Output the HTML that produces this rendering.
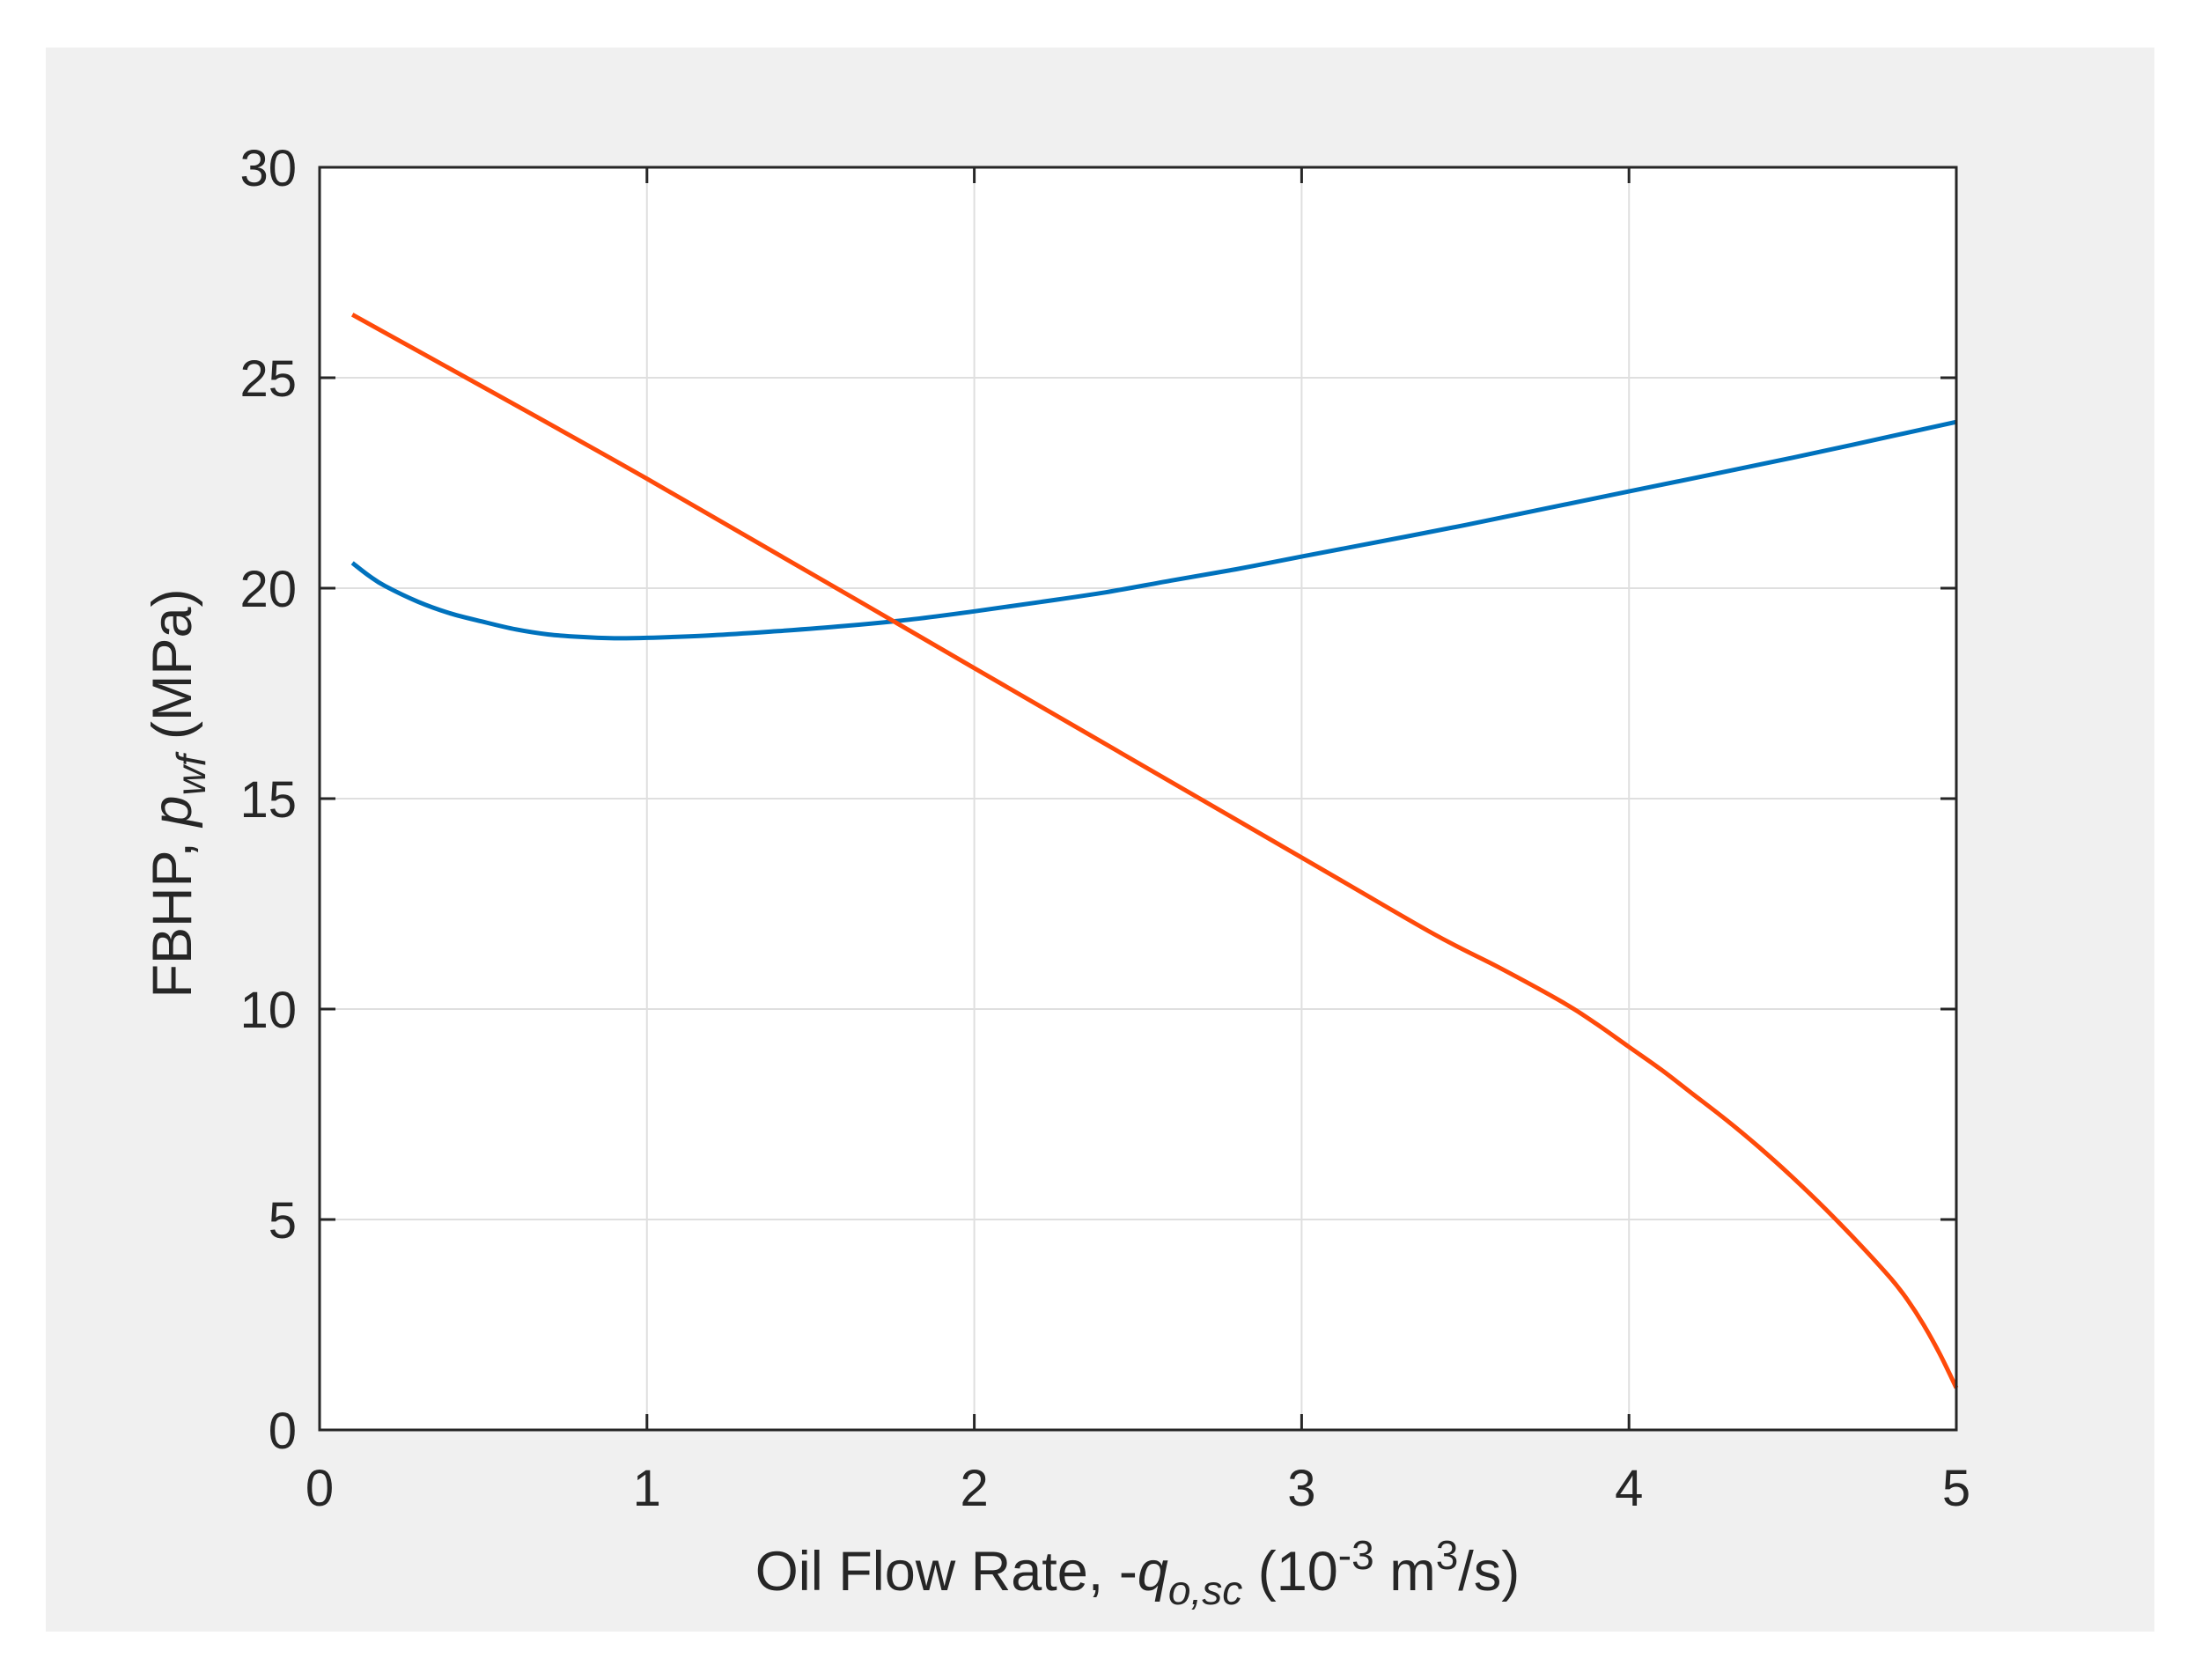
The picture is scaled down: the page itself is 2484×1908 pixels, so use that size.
<!DOCTYPE html>
<html><head><meta charset="utf-8"><style>
html,body{margin:0;padding:0;background:#fff;}
svg{display:block;font-family:"Liberation Sans",sans-serif;}
</style></head><body>
<svg id="chart" width="2484" height="1908" viewBox="0 0 2484 1908" xmlns="http://www.w3.org/2000/svg">
<rect x="52" y="54" width="2395" height="1799" fill="#f0f0f0"/>
<rect x="363" y="190" width="1859" height="1434" fill="#fff"/>
<g id="grid"></g>
<g id="series"></g>
<rect x="363" y="190" width="1859" height="1434" fill="none" stroke="#262626" stroke-width="3"/>
<g id="ticks"></g>
<text x="1292" y="1806" font-size="63" text-anchor="middle" fill="#262626">Oil Flow Rate, -<tspan font-style="italic">q</tspan><tspan font-style="italic" font-size="46" dy="16">o,sc</tspan><tspan dy="-16"> (10</tspan><tspan font-size="46" dy="-24">-3</tspan><tspan dy="24"> m</tspan><tspan font-size="46" dy="-24">3</tspan><tspan dy="24">/s)</tspan></text>
<text transform="translate(217,901) rotate(-90)" font-size="63" text-anchor="middle" fill="#262626">FBHP, <tspan font-style="italic">p</tspan><tspan font-style="italic" font-size="46" dy="16">wf</tspan><tspan dy="-16"> (MPa)</tspan></text>
</svg>
<script>
const xTicks=[0,1,2,3,4,5];
const yTicks=[0,5,10,15,20,25,30];
const blueX=[0.1,0.15,0.2,0.3,0.4,0.5,0.6,0.7,0.8,0.9,1.0,1.2,1.4,1.6,1.8,2.0,2.2,2.4,2.6,2.8,3.0,3.5,4.0,4.5,5.0];
const blueY=[20.6,20.3,20.05,19.68,19.4,19.2,19.02,18.9,18.84,18.81,18.82,18.88,18.98,19.1,19.25,19.45,19.67,19.9,20.18,20.45,20.75,21.5,22.3,23.1,23.95];
const orangeX=[0.1,1.0,2.0,3.0,3.4,3.6,3.8,3.9,4.0,4.1,4.2,4.3,4.4,4.5,4.6,4.7,4.8,4.85,4.9,4.95,5.0];
const orangeY=[26.5,22.6,18.1,13.6,11.8,11.0,10.15,9.65,9.1,8.55,7.95,7.35,6.7,6.0,5.25,4.45,3.6,3.1,2.5,1.8,1.0];
const X0=363,X1=2222,Y0=1624,Y1=190;
const sx=v=>X0+(v-0)/(5-0)*(X1-X0);
const sy=v=>Y0-(v-0)/(30-0)*(Y0-Y1);
const NS="http://www.w3.org/2000/svg";
const grid=document.getElementById('grid'),ticks=document.getElementById('ticks'),series=document.getElementById('series');
function mk(t,a){const e=document.createElementNS(NS,t);for(const k in a)e.setAttribute(k,a[k]);return e;}
xTicks.forEach(v=>{
  const x=sx(v);
  const g=mk('line',{x1:x,x2:x,y1:Y1,y2:Y0,stroke:'#dfdfdf','stroke-width':2});
  
  
  grid.appendChild(g);
  const t1=mk('line',{x1:x,x2:x,y1:Y0,y2:Y0-18,stroke:'#262626','stroke-width':3});
  
  
  ticks.appendChild(t1);
  const t2=mk('line',{x1:x,x2:x,y1:Y1,y2:Y1+18,stroke:'#262626','stroke-width':3});
  
  
  ticks.appendChild(t2);
  const l=mk('text',{x:x,y:1710,'font-size':58,'text-anchor':'middle',fill:'#262626'});
  l.textContent=v;
  
  
  ticks.appendChild(l);
});
yTicks.forEach(v=>{
  const y=sy(v);
  const g=mk('line',{x1:X0,x2:X1,y1:y,y2:y,stroke:'#dfdfdf','stroke-width':2});
  
  
  grid.appendChild(g);
  const t1=mk('line',{x1:X0,x2:X0+18,y1:y,y2:y,stroke:'#262626','stroke-width':3});
  
  
  ticks.appendChild(t1);
  const t2=mk('line',{x1:X1,x2:X1-18,y1:y,y2:y,stroke:'#262626','stroke-width':3});
  
  
  ticks.appendChild(t2);
  const l=mk('text',{x:337,y:y+21,'font-size':58,'text-anchor':'end',fill:'#262626'});
  l.textContent=v;
  
  
  ticks.appendChild(l);
});
function line(xs,ys,color,name){
  const P=xs.map((x,i)=>[sx(x),sy(ys[i])]);
  let d='M'+P[0][0].toFixed(1)+','+P[0][1].toFixed(1);
  for(let i=0;i<P.length-1;i++){
    const p0=P[Math.max(0,i-1)],p1=P[i],p2=P[i+1],p3=P[Math.min(P.length-1,i+2)];
    const c1=[p1[0]+(p2[0]-p0[0])/6,p1[1]+(p2[1]-p0[1])/6];
    const c2=[p2[0]-(p3[0]-p1[0])/6,p2[1]-(p3[1]-p1[1])/6];
    d+=' C'+c1[0].toFixed(1)+','+c1[1].toFixed(1)+' '+c2[0].toFixed(1)+','+c2[1].toFixed(1)+' '+p2[0].toFixed(1)+','+p2[1].toFixed(1);
  }
  const p=mk('path',{d:d,fill:'none',stroke:color,'stroke-width':5,'stroke-linejoin':'round'});
  
  
  series.appendChild(p);
}
line(blueX,blueY,'#0072bd','outflow-curve-blue');
line(orangeX,orangeY,'#ff4a0a','inflow-curve-orange');
</script>
</body></html>
